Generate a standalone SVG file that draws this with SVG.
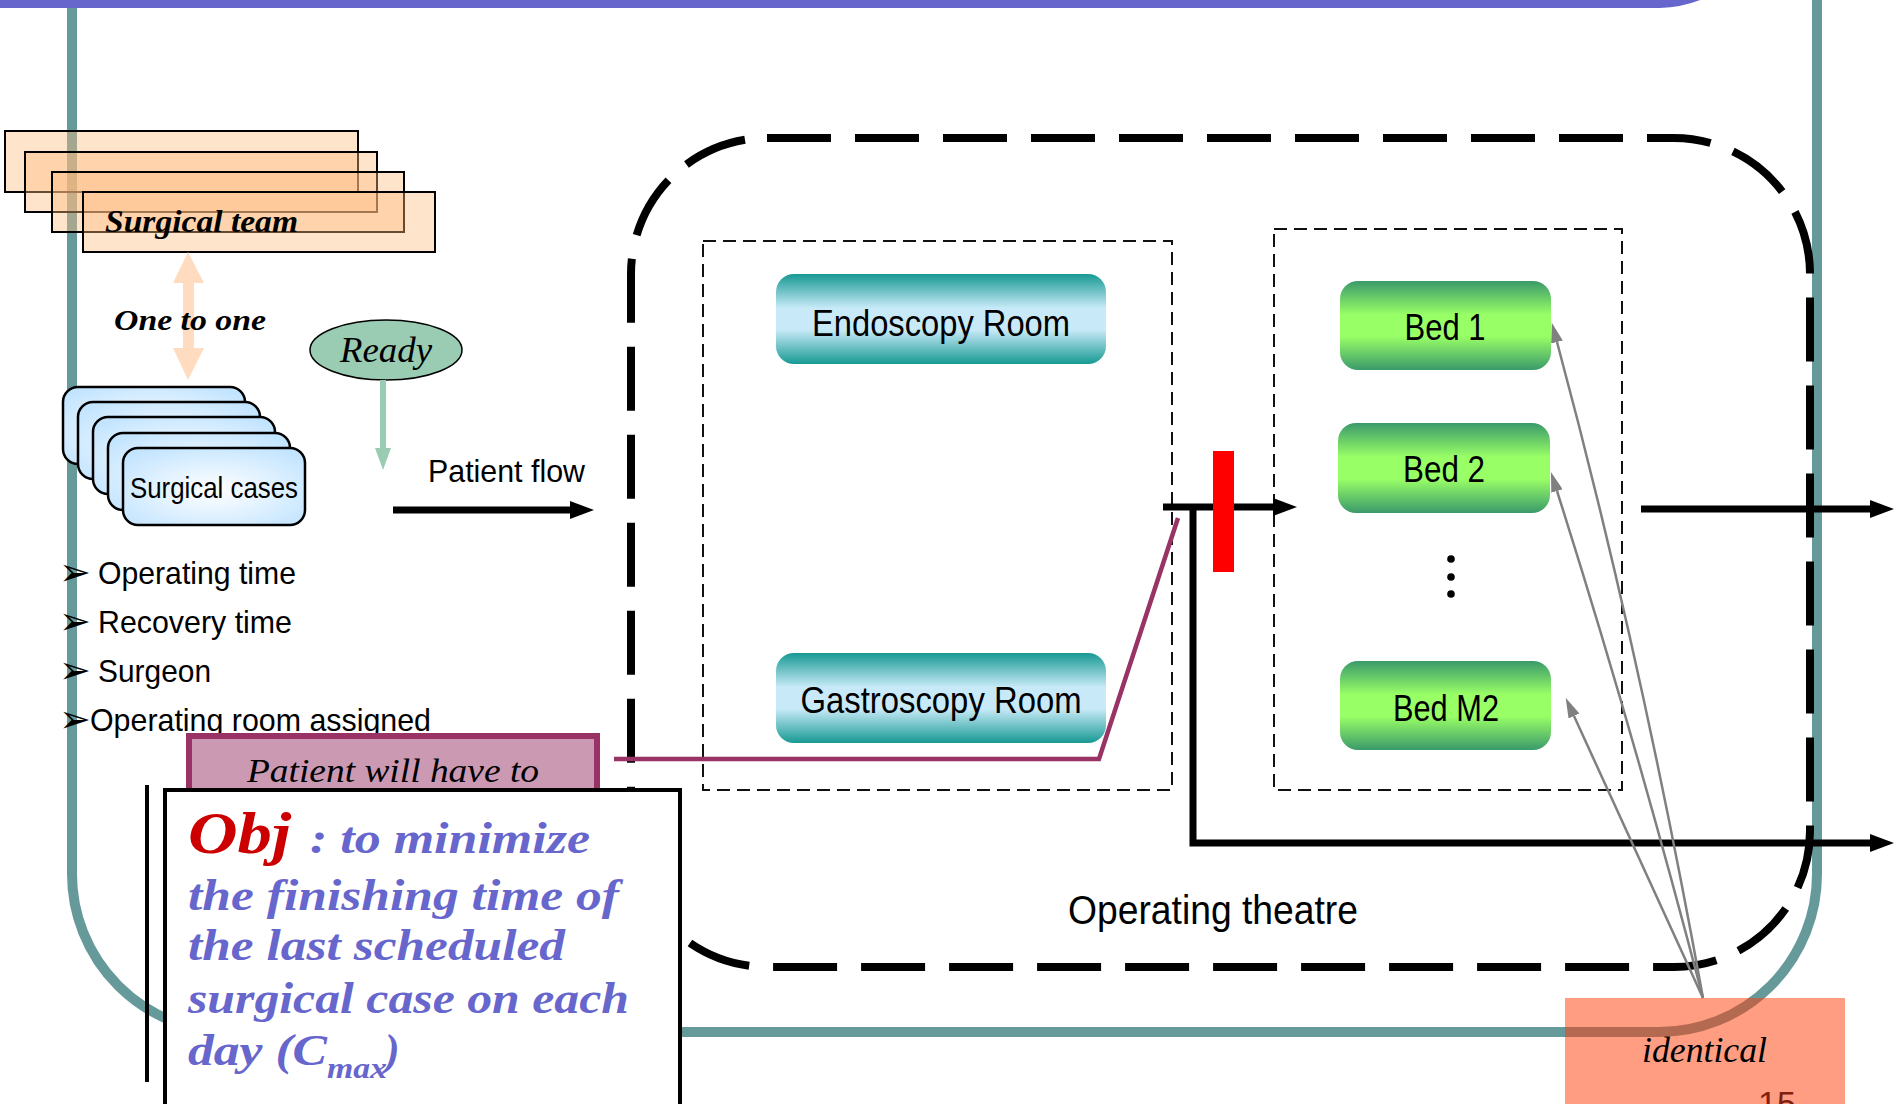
<svg xmlns="http://www.w3.org/2000/svg" width="1894" height="1104" viewBox="0 0 1894 1104">
  <style>
    .sans { font-family: "Liberation Sans Narrow", "Liberation Sans", Arial, sans-serif; fill: #000; }
    .serif-i { font-family: "Liberation Serif", "DejaVu Serif", serif; font-style: italic; fill: #000; }
    .serif-bi { font-family: "Liberation Serif", "DejaVu Serif", serif; font-style: italic; font-weight: bold; }
    .team { fill: rgb(255,187,127); fill-opacity: 0.4; stroke: #000; stroke-width: 2; }
    .case { fill: url(#caseFill); stroke: #000; stroke-width: 2.5; }
    .room { fill: url(#roomFill); }
    .bed { fill: url(#bedFill); }
    .zone { fill: none; stroke: #111; stroke-width: 2; stroke-dasharray: 13 7; }
    .flow { fill: none; stroke: #000; stroke-width: 7; }
    .ident { fill: none; stroke: #808080; stroke-width: 2.5; }
    .bullet { font-family: "DejaVu Sans", sans-serif; font-size: 38px; fill: #000; }
  </style>
  <defs>
    <radialGradient id="caseFill" cx="50%" cy="55%" r="65%">
      <stop offset="0" stop-color="#ffffff"/>
      <stop offset="1" stop-color="#c2e4ff"/>
    </radialGradient>
    <linearGradient id="roomFill" x1="0" y1="0" x2="0" y2="1">
      <stop offset="0" stop-color="#179993"/>
      <stop offset="0.38" stop-color="#c8eaf8"/>
      <stop offset="0.62" stop-color="#c8eaf8"/>
      <stop offset="1" stop-color="#179993"/>
    </linearGradient>
    <linearGradient id="bedFill" x1="0" y1="0" x2="0" y2="1">
      <stop offset="0" stop-color="#3a9a6a"/>
      <stop offset="0.38" stop-color="#99ff66"/>
      <stop offset="0.62" stop-color="#99ff66"/>
      <stop offset="1" stop-color="#3a9a6a"/>
    </linearGradient>
    <marker id="headBlack" markerUnits="userSpaceOnUse" markerWidth="26" markerHeight="18" refX="0" refY="9" orient="auto">
      <path d="M0,0 L24,9 L0,18 Z" fill="#000"/>
    </marker>
    <marker id="headGray" markerUnits="userSpaceOnUse" markerWidth="22" markerHeight="12" refX="0" refY="6" orient="auto">
      <path d="M0,0 L20,6 L0,12 Z" fill="#808080"/>
    </marker>
    <marker id="headReady" markerUnits="userSpaceOnUse" markerWidth="24" markerHeight="18" refX="0" refY="8" orient="auto">
      <path d="M0,0 L22,8 L0,16 Z" fill="#99ccb3"/>
    </marker>
  </defs>

  <rect width="1894" height="1104" fill="#fff"/>

  <!-- slide frame -->
  <path d="M72,0 V874 A158,158 0 0 0 230,1032 H1659 A158,158 0 0 0 1817,874 V0" fill="none" stroke="#669999" stroke-width="10"/>
  <path d="M0,-2 H1705 A120,120 0 0 1 1660,8 H0 Z" fill="#6666cc"/>

  <!-- surgical team stack -->
  <g id="surgical-team">
    <rect class="team" x="5" y="131" width="353" height="61"/>
    <rect class="team" x="25" y="152" width="352" height="60"/>
    <rect class="team" x="52" y="172" width="352" height="60"/>
    <rect class="team" x="83" y="192" width="352" height="60"/>
    <text class="serif-bi" x="105" y="232" font-size="32" fill="#000" textLength="193" lengthAdjust="spacingAndGlyphs">Surgical team</text>
  </g>

  <!-- one-to-one relation -->
  <g id="one-to-one">
    <path d="M188,252 L204,283 L194,283 L194,348 L204,348 L188,380 L173,348 L183,348 L183,283 L173,283 Z" fill="#ffdcbf"/>
    <text class="serif-bi" x="114" y="330" font-size="30" fill="#000" textLength="152" lengthAdjust="spacingAndGlyphs">One to one</text>
  </g>

  <!-- ready state -->
  <g id="ready">
    <ellipse cx="386" cy="350" rx="76" ry="30" fill="#99ccb3" stroke="#000" stroke-width="1.5"/>
    <text class="serif-i" x="340" y="362" font-size="36" textLength="92" lengthAdjust="spacingAndGlyphs">Ready</text>
    <line x1="383" y1="380" x2="383" y2="448" stroke="#99ccb3" stroke-width="6" marker-end="url(#headReady)"/>
  </g>

  <!-- surgical cases stack -->
  <g id="surgical-cases">
    <rect class="case" x="63" y="387" width="182" height="77" rx="15"/>
    <rect class="case" x="78" y="402" width="182" height="77" rx="15"/>
    <rect class="case" x="93" y="417" width="182" height="77" rx="15"/>
    <rect class="case" x="108" y="433" width="182" height="77" rx="15"/>
    <rect class="case" x="123" y="448" width="182" height="77" rx="15"/>
    <text class="sans" x="130" y="498" font-size="30" textLength="168" lengthAdjust="spacingAndGlyphs">Surgical cases</text>
  </g>

  <!-- case attributes -->
  <g id="attributes">
    <text class="bullet" x="59" y="585">➢</text>
    <text class="sans" x="98" y="584" font-size="32" textLength="198" lengthAdjust="spacingAndGlyphs">Operating time</text>
    <text class="bullet" x="59" y="634">➢</text>
    <text class="sans" x="98" y="633" font-size="32" textLength="194" lengthAdjust="spacingAndGlyphs">Recovery time</text>
    <text class="bullet" x="59" y="683">➢</text>
    <text class="sans" x="98" y="682" font-size="32" textLength="113" lengthAdjust="spacingAndGlyphs">Surgeon</text>
    <text class="bullet" x="59" y="732">➢</text>
    <text class="sans" x="90" y="731" font-size="32" textLength="341" lengthAdjust="spacingAndGlyphs">Operating room assigned</text>
  </g>

  <!-- patient flow -->
  <g id="patient-flow">
    <text class="sans" x="428" y="482" font-size="32" textLength="157" lengthAdjust="spacingAndGlyphs">Patient flow</text>
  </g>

  <!-- operating theatre -->
  <g id="operating-theatre">
    <rect x="631" y="138" width="1179" height="829" rx="136" fill="none" stroke="#000" stroke-width="8" stroke-dasharray="64 24"/>
    <text class="sans" x="1068" y="924" font-size="40" textLength="290" lengthAdjust="spacingAndGlyphs">Operating theatre</text>
  </g>

  <g id="rooms">
    <rect class="zone" x="703" y="241" width="469" height="549"/>
  </g>
  <g id="endoscopy-room">
    <rect class="room" x="776" y="274" width="330" height="90" rx="18"/>
    <text class="sans" x="941" y="336" font-size="36" text-anchor="middle" textLength="258" lengthAdjust="spacingAndGlyphs">Endoscopy Room</text>
  </g>
  <g id="gastroscopy-room">
    <rect class="room" x="776" y="653" width="330" height="90" rx="18"/>
    <text class="sans" x="941" y="713" font-size="36" text-anchor="middle" textLength="281" lengthAdjust="spacingAndGlyphs">Gastroscopy Room</text>
  </g>

  <g id="recovery-beds">
    <rect class="zone" x="1274" y="229" width="348" height="561"/>
    <circle cx="1451" cy="559" r="3.8" fill="#000"/>
    <circle cx="1451" cy="577" r="3.8" fill="#000"/>
    <circle cx="1451" cy="594" r="3.8" fill="#000"/>
  </g>
  <g id="bed-1">
    <rect class="bed" x="1340" y="281" width="211" height="89" rx="18"/>
    <text class="sans" x="1445" y="340" font-size="36" text-anchor="middle" textLength="81" lengthAdjust="spacingAndGlyphs">Bed 1</text>
  </g>
  <g id="bed-2">
    <rect class="bed" x="1338" y="423" width="212" height="90" rx="18"/>
    <text class="sans" x="1444" y="482" font-size="36" text-anchor="middle" textLength="82" lengthAdjust="spacingAndGlyphs">Bed 2</text>
  </g>
  <g id="bed-m2">
    <rect class="bed" x="1340" y="661" width="211" height="89" rx="18"/>
    <text class="sans" x="1446" y="721" font-size="36" text-anchor="middle" textLength="106" lengthAdjust="spacingAndGlyphs">Bed M2</text>
  </g>

  <!-- connectors -->
  <g id="connectors">
    <line class="flow" x1="393" y1="510" x2="570" y2="510" marker-end="url(#headBlack)"/>
    <line class="flow" x1="1163" y1="507" x2="1273" y2="507" marker-end="url(#headBlack)"/>
    <path class="flow" d="M1193,504 V843 H1870" marker-end="url(#headBlack)"/>
    <line class="flow" x1="1641" y1="509" x2="1870" y2="509" marker-end="url(#headBlack)"/>
    <path d="M614,759 H1099 L1178,518" fill="none" stroke="#993366" stroke-width="4.5"/>
    <path class="ident" d="M1703,998 Q1640,650 1557,342" marker-end="url(#headGray)"/>
    <path class="ident" d="M1703,998 Q1633,730 1557,491" marker-end="url(#headGray)"/>
    <path class="ident" d="M1703,998 L1574,716" marker-end="url(#headGray)"/>
  </g>

  <!-- blocking point -->
  <g id="block">
    <rect x="1213" y="451" width="21" height="121" fill="#ff0000"/>
  </g>

  <!-- constraint note -->
  <g id="note">
    <rect x="189" y="736" width="408" height="70" fill="#cc99b3" stroke="#993366" stroke-width="6"/>
    <text class="serif-i" x="247" y="782" font-size="34" textLength="292" lengthAdjust="spacingAndGlyphs">Patient will have to</text>
  </g>

  <!-- objective -->
  <g id="objective">
    <line x1="147" y1="785" x2="147" y2="1082" stroke="#000" stroke-width="4"/>
    <rect x="165" y="790" width="515" height="340" fill="#fff" stroke="#000" stroke-width="4"/>
    <text class="serif-bi" x="188" y="853" font-size="60" fill="#cc0000" textLength="103" lengthAdjust="spacingAndGlyphs">Obj</text>
    <text class="serif-bi" x="310" y="853" font-size="44" fill="#6666cc" textLength="280" lengthAdjust="spacingAndGlyphs">: to minimize</text>
    <text class="serif-bi" x="188" y="910" font-size="44" fill="#6666cc" textLength="431" lengthAdjust="spacingAndGlyphs">the finishing time of</text>
    <text class="serif-bi" x="188" y="960" font-size="44" fill="#6666cc" textLength="377" lengthAdjust="spacingAndGlyphs">the last scheduled</text>
    <text class="serif-bi" x="188" y="1013" font-size="44" fill="#6666cc" textLength="441" lengthAdjust="spacingAndGlyphs">surgical case on each</text>
    <text class="serif-bi" x="188" y="1065" font-size="44" fill="#6666cc" textLength="139" lengthAdjust="spacingAndGlyphs">day (C</text>
    <text class="serif-bi" x="327" y="1078" font-size="30" fill="#6666cc" textLength="60" lengthAdjust="spacingAndGlyphs">max</text>
    <text class="serif-bi" x="385" y="1065" font-size="44" fill="#6666cc">)</text>
  </g>

  <!-- identical beds tag -->
  <g id="identical">
    <rect x="1565" y="998" width="280" height="110" fill="#ff3b07" fill-opacity="0.5"/>
    <text class="serif-i" x="1642" y="1062" font-size="36" textLength="125" lengthAdjust="spacingAndGlyphs">identical</text>
    <text x="1758" y="1115" font-family="Liberation Sans, Arial, sans-serif" font-size="34" fill="#7f2010">15</text>
  </g>
</svg>
